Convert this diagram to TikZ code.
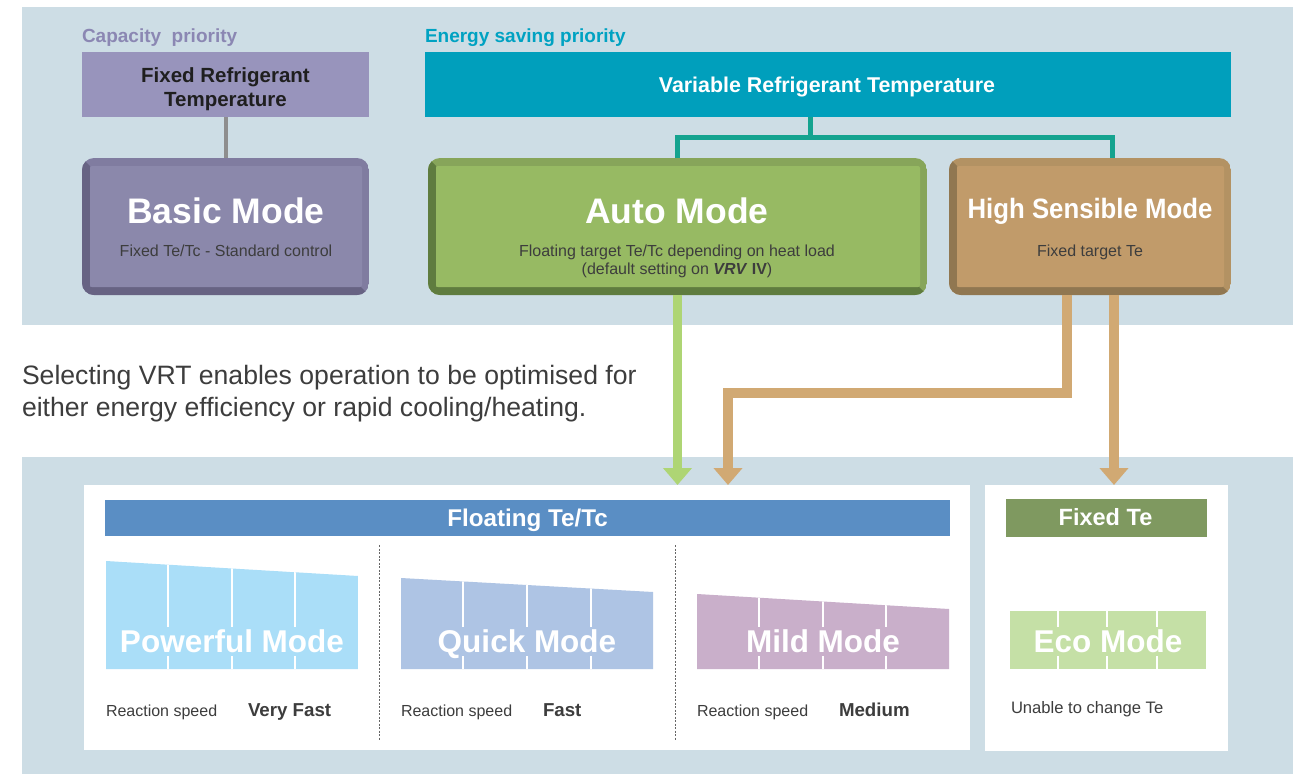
\documentclass[tikz,border=0pt]{standalone}
\usepackage{fontspec}
\setmainfont{Liberation Sans}
\usetikzlibrary{arrows.meta,calc}

\definecolor{panel}{HTML}{CDDDE5}
\definecolor{capcol}{HTML}{8B87B3}
\definecolor{energycol}{HTML}{00A2C2}
\definecolor{fixedref}{HTML}{9894BC}
\definecolor{grayline}{HTML}{8E8E8E}
\definecolor{basicdark}{HTML}{676383}
\definecolor{basiclight}{HTML}{807CA0}
\definecolor{basicin}{HTML}{8B88AB}
\definecolor{vrtcol}{HTML}{009FBC}
\definecolor{tealline}{HTML}{14A38F}
\definecolor{autodark}{HTML}{5F7C3F}
\definecolor{autolight}{HTML}{87A55A}
\definecolor{autoin}{HTML}{97BA63}
\definecolor{hsdark}{HTML}{907751}
\definecolor{hslight}{HTML}{B39263}
\definecolor{hsin}{HTML}{C19B6A}
\definecolor{greenarrow}{HTML}{AED574}
\definecolor{tanarrow}{HTML}{D1A973}
\definecolor{floatcol}{HTML}{5A8EC4}
\definecolor{fixtecol}{HTML}{7F9960}
\definecolor{powcol}{HTML}{AADEF8}
\definecolor{quickcol}{HTML}{AEC4E4}
\definecolor{mildcol}{HTML}{C9AFCA}
\definecolor{ecocol}{HTML}{C5E0A6}
\definecolor{txtdark}{HTML}{3D3D3D}
\definecolor{dashcol}{HTML}{666666}

\newcommand{\fsz}[1]{\fontsize{#1}{#1}\selectfont}

% bevelled rounded box: name, x0, y0, x1, y1, dark, light, inner
\newcommand{\bevelbox}[8]{%
  \node[boxarea, minimum width={#4-#2}, minimum height={#5-#3}] (#1) at ({(#2+#4)/2},{(#3+#5)/2}) {};
  \begin{scope}
    \clip[rounded corners=12pt] (#2,#3) rectangle (#4,#5);
    \fill[#7] (#2,#3) rectangle (#4,#5);
    \fill[#6] (#2,#3) -- (#2+8,#3+8) -- (#2+8,#5-8) -- (#4-8,#5-8) -- (#4,#5) -- (#2,#5) -- cycle;
  \end{scope}
  \fill[#8, rounded corners=2pt] (#2+8,#3+8) rectangle (#4-7,#5-8);
}

% mode shape: color, x0, ytopleft, x1, ytopright, ybottom, three divider x
\newcommand{\modeshape}[9]{%
  \begin{scope}
    \clip (#2,#3) -- (#4,#5) -- (#4,#6) -- (#2,#6) -- cycle;
    \fill[#1] (#2,#3) -- (#4,#5) -- (#4,#6) -- (#2,#6) -- cycle;
    \draw[divider] (#7,540) -- (#7,627) (#8,540) -- (#8,627) (#9,540) -- (#9,627);
    \draw[divider] (#7,656) -- (#7,#6) (#8,656) -- (#8,#6) (#9,656) -- (#9,#6);
  \end{scope}}

\begin{document}
\begin{tikzpicture}[x=1pt,y=-1pt,
  every node/.style={inner sep=0pt, outer sep=0pt},
  boxarea/.style={inner sep=0pt, outer sep=0pt},
  bigtitle/.style={anchor=base, text=white, font=\bfseries\fsz{35.5}},
  subtxt/.style={anchor=base, text=txtdark, font=\fsz{16}},
  bartxt/.style={anchor=base, text=white, font=\bfseries\fsz{23.5}},
  modetxt/.style={anchor=base, text=white, font=\bfseries\fsz{31.5}},
  speedlbl/.style={anchor=base west, text=txtdark, font=\fsz{16}},
  speedval/.style={anchor=base west, text=txtdark, font=\bfseries\fsz{18.7}},
  divider/.style={draw=white, line width=1.5pt},
  sepline/.style={draw=dashcol, line width=0.8pt, dash pattern=on 2pt off 1.5pt},
  tealconn/.style={draw=tealline, line width=5pt},
  greenarr/.style={draw=greenarrow, line width=9.5pt, -{Triangle[width=28pt,length=17pt]}},
  tanarr/.style={draw=tanarrow, line width=10pt, -{Triangle[width=28pt,length=17pt]}}
]
\useasboundingbox (0,0) rectangle (1296,774);
\fill[white] (0,0) rectangle (1296,774);
\fill[panel] (22,7) rectangle (1293,325);
\fill[panel] (22,457) rectangle (1293,774);

% ---- top headings
\node[anchor=base west, text=capcol, font=\bfseries\fsz{19}] (cap) at (82,42) {Capacity~ priority};
\node[anchor=base west, text=energycol, font=\bfseries\fsz{19}] (energy) at (425,42) {Energy saving priority};

% ---- fixed refrigerant temperature
\node[boxarea, fill=fixedref, minimum width=287, minimum height=65] (fixedrefbox) at (225.5,84.5) {};
\node[text=black!88, font=\bfseries\fontsize{20.5}{24}\selectfont, align=center] (fixedreftxt) at (225.5,89) {Fixed Refrigerant\\Temperature};

% ---- variable refrigerant temperature
\node[boxarea, fill=vrtcol, minimum width=806, minimum height=65] (vrt) at (828,84.5) {};
\node[anchor=base, text=white, font=\bfseries\fsz{21.4}] (vrttxt) at (827,92) {Variable Refrigerant Temperature};

% ---- mode boxes
\bevelbox{basic}{82}{158}{369}{295}{basicdark}{basiclight}{basicin}
\bevelbox{auto}{428}{158}{927}{295}{autodark}{autolight}{autoin}
\bevelbox{hs}{949}{158}{1231}{295}{hsdark}{hslight}{hsin}

\node[bigtitle] (basict) at (226,223) {Basic Mode};
\node[subtxt] (basics) at (226,256) {Fixed Te/Tc - Standard control};

\node[bigtitle] (autot) at (677,223) {Auto Mode};
\node[subtxt] (autos1) at (677,256) {Floating target Te/Tc depending on heat load};
\node[subtxt] (autos2) at (677,274) {(default setting on \textbf{\textit{VRV}} \textbf{IV})};

\node[anchor=base, text=white, font=\bfseries\fsz{28}] (hst) at (1090,218) {\scalebox{0.92}[1]{High Sensible Mode}};
\node[subtxt] (hss) at (1090,256) {Fixed target Te};

% ---- connectors top
\draw[grayline, line width=4pt] (fixedrefbox.south) -- (basic.north);
\draw[tealconn] ($(vrt.south west)+(385,0)$) -- ++(0,20);
\draw[tealconn] (auto.north) |- ($(hs.north west)+(163,-21)$) -- ($(hs.north west)+(163,0)$);

% ---- description text
\node[anchor=base west, text=txtdark, font=\fsz{26.6}] (desc1) at (22,384) {Selecting VRT enables operation to be optimised for};
\node[anchor=base west, text=txtdark, font=\fsz{26.6}] (desc2) at (22,416) {either energy efficiency or rapid cooling/heating.};

% ---- bottom panels
\node[boxarea, fill=white, minimum width=886, minimum height=265] (floatpanel) at (527,617.5) {};
\node[boxarea, fill=white, minimum width=243, minimum height=266] (fixedpanel) at (1106.5,618) {};

\node[boxarea, fill=floatcol, minimum width=845, minimum height=36] (floatbar) at (527.5,518) {};
\node[bartxt, font=\bfseries\fsz{24.2}] (floattxt) at (527.5,526.5) {Floating Te/Tc};
\node[boxarea, fill=fixtecol, minimum width=201, minimum height=38] (fixtebar) at (1106.5,518) {};
\node[bartxt] (fixtetxt) at (1105.5,525.5) {Fixed Te};

\draw[sepline] (379.5,545) -- (379.5,740);
\draw[sepline] (675.5,545) -- (675.5,740);

\modeshape{powcol}{106}{561}{358}{576}{669}{168}{232}{295}
\modeshape{quickcol}{401}{578}{653}{592}{669}{463}{527}{591}
\modeshape{mildcol}{697}{594}{949}{609}{669}{759}{823}{886}
\modeshape{ecocol}{1010}{611}{1206}{611}{669}{1058}{1107}{1157}

\node[modetxt] (powt) at (232,652) {Powerful Mode};
\node[modetxt] (quickt) at (527,652) {Quick Mode};
\node[modetxt] (mildt) at (823,652) {Mild Mode};
\node[modetxt] (ecot) at (1108,652) {Eco Mode};

\node[speedlbl] (pows) at (106,716) {Reaction speed};
\node[speedval] (powv) at (248,716) {Very Fast};
\node[speedlbl] (quicks) at (401,716) {Reaction speed};
\node[speedval] (quickv) at (543,716) {Fast};
\node[speedlbl] (milds) at (697,716) {Reaction speed};
\node[speedval] (mildv) at (839,716) {Medium};
\node[speedlbl, font=\fsz{16.6}] (ecos) at (1011,713) {Unable to change Te};

% ---- arrows
\draw[greenarr] (auto.south) -- (auto.south |- floatpanel.north);
\draw[tanarr] ($(hs.south west)+(118,0)$) -- ++(0,98) -| ($(floatpanel.north west)+(644,0)$);
\draw[tanarr] ($(hs.south west)+(165,0)$) -- ($(fixedpanel.north west)+(129,0)$);
\end{tikzpicture}
\end{document}
